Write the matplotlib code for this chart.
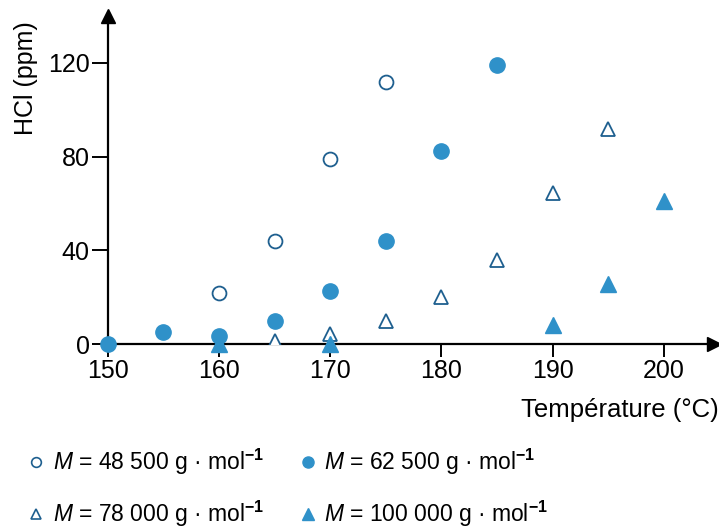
import matplotlib
matplotlib.use("Agg")
import matplotlib.pyplot as plt
from matplotlib.lines import Line2D

plt.rcParams["font.family"] = ["Liberation Sans", "DejaVu Sans"]
plt.rcParams["mathtext.fontset"] = "custom"
plt.rcParams["mathtext.it"] = "Liberation Sans:italic"
plt.rcParams["mathtext.rm"] = "Liberation Sans"
plt.rcParams["mathtext.bf"] = "Liberation Sans:bold"

# HCl release vs temperature for four molar masses
t1 = [160, 165, 170, 175]
hcl1 = [22, 44, 79, 112]

t2 = [150, 155, 160, 165, 170, 175, 180, 185]
hcl2 = [0, 5, 3.5, 10, 22.5, 44, 82.5, 119]

t3 = [165, 170, 175, 180, 185, 190, 195]
hcl3 = [1.5, 4.5, 10, 20, 36, 64.5, 92]

t4 = [160, 170, 190, 195, 200]
hcl4 = [0, 0, 8, 25.5, 61]

labels = [r"$M$ = 48 500 g · mol$^{\mathbf{-1}}$",
          r"$M$ = 62 500 g · mol$^{\mathbf{-1}}$",
          r"$M$ = 78 000 g · mol$^{\mathbf{-1}}$",
          r"$M$ = 100 000 g · mol$^{\mathbf{-1}}$"]

blue = "#2f91c9"
dark = "#1e5f8f"

fig = plt.figure(figsize=(7.19, 5.32), dpi=100)
ax = fig.add_axes([0.150, 0.353, 0.843, 0.617])

ax.plot(t1, hcl1, "o", ms=10, mfc="white", mec=dark, mew=1.3, ls="none", zorder=3)
ax.plot(t2, hcl2, "o", ms=11, mfc=blue, mec=blue, ls="none", zorder=3, clip_on=False)
ax.plot(t3, hcl3, "^", ms=10, mfc="white", mec=dark, mew=1.3, ls="none", zorder=3)
ax.plot(t4, hcl4, "^", ms=11, mfc=blue, mec=blue, ls="none", zorder=3, clip_on=False)

ax.set_xlim(150, 204.5)
ax.set_ylim(0, 140)
ax.set_xticks([150, 160, 170, 180, 190, 200])
ax.set_yticks([0, 40, 80, 120])
for s in ["top", "right"]:
    ax.spines[s].set_visible(False)
for s in ["left", "bottom"]:
    ax.spines[s].set_linewidth(1.6)
ax.tick_params(axis="both", labelsize=18, width=1.4, direction="out", colors="black")
ax.tick_params(axis="y", length=11.5, pad=1.5)
ax.tick_params(axis="x", length=9.5, pad=1)
ax.plot(1, 0, ">k", ms=10, transform=ax.transAxes, clip_on=False)
ax.plot(0, 1, "^k", ms=10, transform=ax.transAxes, clip_on=False)

fig.text(0.036, 0.853, "HCl (ppm)", rotation=90, ha="center", va="center", fontsize=18)
fig.text(0.999, 0.229, "Température (°C)", ha="right", va="center", fontsize=18.5)

handles = [
    Line2D([], [], marker="o", ms=7, mfc="white", mec=dark, mew=1.2, ls="none"),
    Line2D([], [], marker="o", ms=8, mfc=blue, mec=blue, ls="none"),
    Line2D([], [], marker="^", ms=7, mfc="white", mec=dark, mew=1.2, ls="none"),
    Line2D([], [], marker="^", ms=8, mfc=blue, mec=blue, ls="none"),
]
# column order: first row 48500 & 62500, second row 78000 & 100000
fig.legend([handles[0], handles[2], handles[1], handles[3]],
           [labels[0], labels[2], labels[1], labels[3]],
           loc="upper left", bbox_to_anchor=(0.038, 0.16),
           ncol=2, frameon=False, fontsize=16.5, handlelength=0.8, handletextpad=0.3,
           columnspacing=1.5, labelspacing=0.95, borderpad=0, borderaxespad=0)

fig.savefig("out.png", dpi=100)
